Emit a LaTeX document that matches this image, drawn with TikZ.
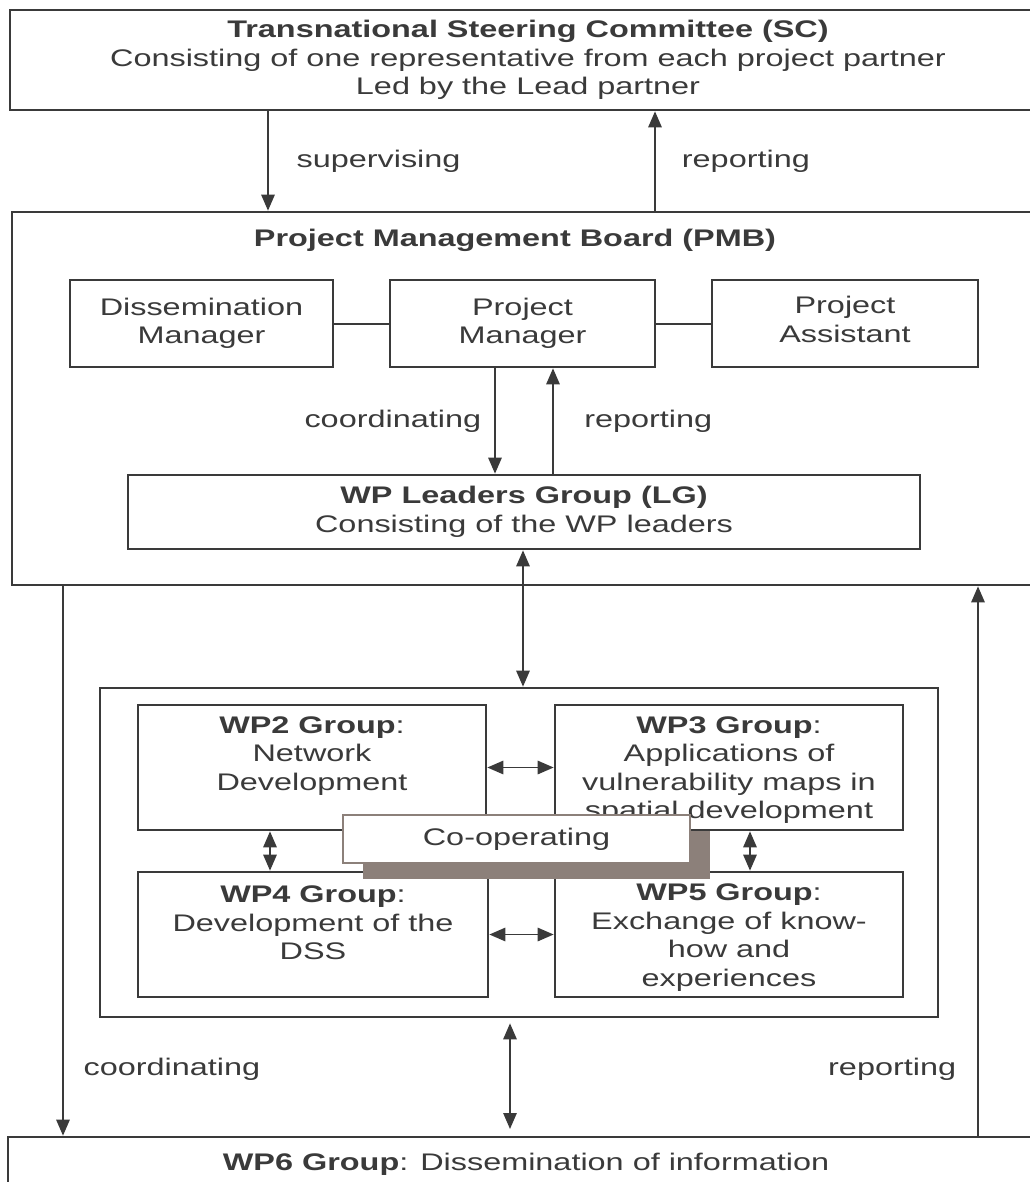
\documentclass[tikz,border=0pt]{standalone}
\usepackage{fontspec}
\setmainfont{Liberation Sans}[FakeStretch=1.35]
\usetikzlibrary{arrows.meta,shadows}

\definecolor{linegray}{RGB}{58,58,58}
\definecolor{shadowgray}{RGB}{140,128,122}

\tikzset{every picture/.style={line width=0.75pt}}
\tikzset{
  box/.style={draw=linegray, line width=2pt, fill=white, inner sep=0.75pt, align=center, text=linegray},
  lbl/.style={inner sep=0.75pt, align=center, text=linegray},
  tip/.style={draw=linegray, line width=1.4pt, -{Triangle[length=12pt,width=10pt]}},
  twotip/.style={draw=linegray, line width=1.4pt, {Triangle[length=12pt,width=10pt]}-{Triangle[length=12pt,width=10pt]}},
  joint/.style={draw=linegray, line width=1.5pt},
}

\begin{document}
\begin{tikzpicture}[x=0.75pt,y=0.75pt,yscale=-1,xscale=1,font=\fontsize{18}{21.4}\selectfont]
\useasboundingbox (0,0) rectangle (1030,1182);

%Shape: Rectangle (steering committee)
\node[box, minimum width=777pt, minimum height=75pt] (sc) at (528,60) {\textbf{Transnational Steering Committee (SC)}\\Consisting of one representative from each project partner\\Led by the Lead partner};
%Shape: Rectangle (management board)
\node[box, minimum width=771pt, minimum height=279.75pt] (pmb) at (526,398.5) {};
\node[lbl] (pmbt) at (515,240) {\textbf{Project Management Board (PMB)}};
%Shape: Rectangle
\node[box, minimum width=197.25pt, minimum height=65.25pt] (dm) at (201.5,323.5) {Dissemination\\Manager};
%Shape: Rectangle
\node[box, minimum width=198.75pt, minimum height=65.25pt] (pm) at (522.5,323.5) {Project\\Manager};
%Shape: Rectangle
\node[box, minimum width=199.5pt, minimum height=65.25pt] (pa) at (845,323.5) {Project\\Assistant\strut};
%Shape: Rectangle (leaders group)
\node[box, minimum width=594pt, minimum height=55.5pt] (lg) at (524,512) {\textbf{WP Leaders Group (LG)}\\Consisting of the WP leaders};

%Shape: Rectangle (work package frame)
\node[box, minimum width=628.5pt, minimum height=246.75pt] (wpc) at (519,852.5) {};
%Shape: Rectangle
\node[box, minimum width=261pt, minimum height=93.75pt] (wp2) at (312,767.5) {};
%Shape: Rectangle
\node[box, minimum width=261pt, minimum height=93.75pt] (wp3) at (729,767.5) {};
%Shape: Rectangle
\node[box, minimum width=262.5pt, minimum height=93.75pt] (wp4) at (313,934.5) {};
%Shape: Rectangle
\node[box, minimum width=261pt, minimum height=93.75pt] (wp5) at (729,934.5) {};
%Shape: Rectangle (dissemination group)
\node[box, minimum width=777pt, minimum height=40.5pt] (wp6) at (526,1164) {\textbf{WP6 Group}: Dissemination of information};

% Text Node
\node[lbl] (wp2t) at (312,756) {\textbf{WP2 Group}:\\Network\\Development};
% Text Node
\node[lbl] (wp3t) at (729,770) {\textbf{WP3 Group}:\\Applications of\\vulnerability maps in\\spatial development};
% Text Node
\node[lbl] (wp4t) at (313,923) {\textbf{WP4 Group}:\\Development of the\\DSS};
% Text Node
\node[lbl] (wp5t) at (729,937.5) {\textbf{WP5 Group}:\\Exchange of know-\\how and\\experiences};

%Shape: Rectangle (co-operating)
\node[draw=shadowgray, fill=white, line width=1.2pt, text=linegray, minimum width=260.25pt, minimum height=36pt,
  drop shadow={shadow xshift=15pt, shadow yshift=-12pt, fill=shadowgray, opacity=1}] (coop) at (516.5,839) {Co-operating};

% connector positions
\coordinate (sv) at (268,0);
\coordinate (rp) at (655,0);
\coordinate (cd) at (495,0);
\coordinate (rm) at (553,0);
\coordinate (lk) at (523,0);
\coordinate (v24) at (270,0);
\coordinate (v35) at (750,0);
\coordinate (dn) at (510,0);
\coordinate (cl) at (63,0);
\coordinate (rl) at (978,0);

%Straight Lines
\draw[tip] (sc.south -| sv) -- (pmb.north -| sv) node[lbl, midway, right=20pt] {supervising};
\draw[tip] (pmb.north -| rp) -- (sc.south -| rp) node[lbl, midway, right=18.75pt] {reporting};
\draw[joint] (dm) -- (pm);
\draw[joint] (pm) -- (pa);
\draw[tip] (pm.south -| cd) -- (lg.north -| cd) node[lbl, midway, left=9pt] {coordinating};
\draw[tip] (lg.north -| rm) -- (pm.south -| rm) node[lbl, midway, right=22pt] {reporting};
\draw[twotip] (lg.south -| lk) -- (wpc.north -| lk);
\draw[twotip] (wp2) -- (wp3);
\draw[twotip] (wp4) -- (wp5);
\draw[twotip] (wp2.south -| v24) -- (wp4.north -| v24);
\draw[twotip] (wp3.south -| v35) -- (wp5.north -| v35);
\draw[twotip, shorten <=3.75pt, shorten >=5pt] (wpc.south -| dn) -- (wp6.north -| dn);
\draw[tip] (pmb.south -| cl) -- (wp6.north -| cl) node[lbl, pos=0.88, right=14pt] {coordinating};
\draw[tip] (wp6.north -| rl) -- (pmb.south -| rl) node[lbl, pos=0.12, left=15pt] {reporting};

\end{tikzpicture}
\end{document}
